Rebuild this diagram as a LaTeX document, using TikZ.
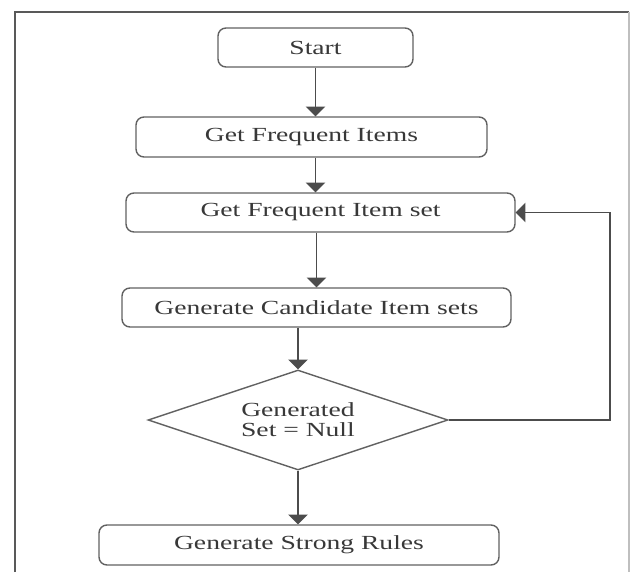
\documentclass[tikz,border=0pt]{standalone}
\usepackage{fontspec}
\setmainfont{Liberation Serif}[FakeStretch=1.38]
\usetikzlibrary{arrows}
\usetikzlibrary{shapes.geometric}

\tikzset{
  stepbox/.style={draw=black!62, line width=0.7pt, rounded corners=4pt,
    text=black!78, font=\fontsize{10}{10}\selectfont, inner sep=0pt},
  testbox/.style={shape=diamond, draw=black!62, line width=0.7pt,
    text=black!78, font=\fontsize{10}{10}\selectfont, align=center,
    inner sep=0pt, aspect=3, minimum width=150pt, minimum height=50pt},
  flow/.style={->, draw=black!70, line width=0.7pt}
}

\begin{document}
\begin{tikzpicture}[x=0.5pt, y=-0.5pt, >=triangle 90]
\useasboundingbox (0,0) rectangle (636,572);
% outer frame
\draw[black!65, line width=0.8pt] (15,572) -- (15,12) -- (629,12);
\draw[black!25, line width=0.8pt] (629,12) -- (629,572);

% steps
\node[stepbox, minimum width=97.5pt, minimum height=19.5pt] (start) at (315.5,47.5) {Start};
\node[stepbox, minimum width=175.5pt, minimum height=20pt] (items) at (311.5,137) {Get Frequent Items};
\node[stepbox, minimum width=194.5pt, minimum height=19.5pt] (itemset) at (320.5,212.5) {Get Frequent Item set};
\node[stepbox, minimum width=194.5pt, minimum height=19.5pt] (cand) at (316.5,307.5) {Generate Candidate Item sets};
\node[testbox] (null) at (298,420) {Generated\\Set = Null};
\node[stepbox, minimum width=200pt, minimum height=20pt] (rules) at (299,545) {Generate Strong Rules};

% connectors
\coordinate (loop) at (610,420);
\draw[flow] (start.south) -- (start.south |- items.north);
\draw[flow] (items.south -| start.south) -- (itemset.north -| start.south);
\draw[flow] (itemset.south -| cand.north) -- (cand.north);
\draw[flow] (cand.south -| null.north) -- (null.north);
\draw[flow] (null.south) -- (null.south |- rules.north);
\draw[flow] (null.east) -- (loop) |- (itemset.east);
\end{tikzpicture}
\end{document}
